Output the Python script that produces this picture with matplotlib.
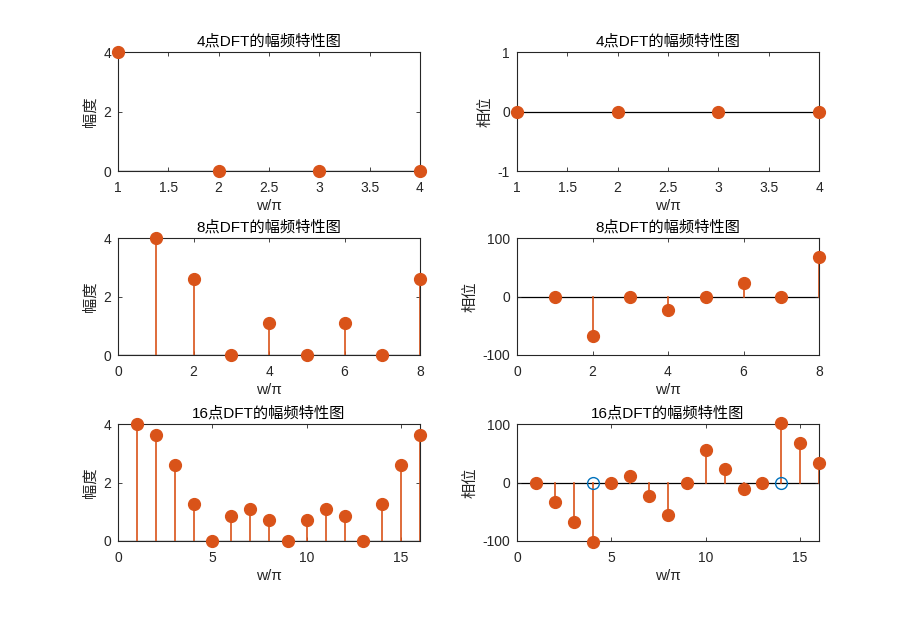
import matplotlib
matplotlib.use("Agg")
import matplotlib.pyplot as plt
import numpy as np

plt.rcParams['font.family'] = ['Liberation Sans', 'Noto Sans CJK SC', 'DejaVu Sans']
plt.rcParams['axes.unicode_minus'] = False

# Data
n4 = [1, 2, 3, 4]
mag4 = [4, 0, 0, 0]
pha4 = [0, 0, 0, 0]

n8 = [1, 2, 3, 4, 5, 6, 7, 8]
mag8 = [4, 2.613, 0, 1.082, 0, 1.082, 0, 2.613]
pha8 = [0, -67.5, 0, -22.5, 0, 22.5, 0, 67.5]

n16 = list(range(1, 17))
mag16 = [4, 3.625, 2.613, 1.273, 0, 0.850, 1.082, 0.721, 0, 0.721, 1.082, 0.850, 0, 1.273, 2.613, 3.625]
pha16 = [0, -33.75, -67.5, -101.25, 0, 11.25, -22.5, -56.25, 0, 56.25, 22.5, -11.25, 0, 101.25, 67.5, 33.75]
hollow16_x = [4, 14]
hollow16_y = [0, 0]

titles = ['4点DFT的幅频特性图', '4点DFT的幅频特性图',
          '8点DFT的幅频特性图', '8点DFT的幅频特性图',
          '16点DFT的幅频特性图', '16点DFT的幅频特性图']
xlabel = 'w/π'
ylabels = ['幅度', '相位']

ORANGE = '#D95319'
BLUE = '#0072BD'
AXC = '#262626'

fig = plt.figure(figsize=(9.06, 6.2), dpi=100)

W = 906; H = 620
lefts = [118 / W, 517 / W]
width = 302 / W
rows = [(52, 171), (238, 355), (424, 541)]


def make_ax(col, row):
    t, b = rows[row]
    ax = fig.add_axes([lefts[col], 1 - b / H, width, (b - t) / H])
    for s in ax.spines.values():
        s.set_color(AXC)
        s.set_linewidth(0.8)
    ax.tick_params(direction='in', length=3, width=0.6, colors=AXC, labelsize=10,
                   top=True, right=True)
    ax.tick_params(axis='x', pad=7)
    ax.tick_params(axis='y', pad=5)
    return ax


def stem(ax, x, y, baseline=True):
    for xi, yi in zip(x, y):
        ax.plot([xi, xi], [0, yi], color=ORANGE, lw=1.2, zorder=2)
    if baseline:
        ax.axhline(0, color='black', lw=0.9, zorder=1.5)
    ax.plot(x, y, 'o', color=ORANGE, ms=8.5, mec=ORANGE, zorder=3, clip_on=False)


datasets = [
    (n4, mag4, pha4, (1, 4), [1, 1.5, 2, 2.5, 3, 3.5, 4], ['1', '1.5', '2', '2.5', '3', '3.5', '4'],
     (0, 4), [0, 2, 4], (-1, 1), [-1, 0, 1]),
    (n8, mag8, pha8, (0, 8), [0, 2, 4, 6, 8], ['0', '2', '4', '6', '8'],
     (0, 4), [0, 2, 4], (-100, 100), [-100, 0, 100]),
    (n16, mag16, pha16, (0, 16), [0, 5, 10, 15], ['0', '5', '10', '15'],
     (0, 4), [0, 2, 4], (-100, 100), [-100, 0, 100]),
]

for r, (n, mag, pha, xl, xt, xtl, yl1, yt1, yl2, yt2) in enumerate(datasets):
    ax = make_ax(0, r)
    stem(ax, n, mag)
    ax.set_xlim(*xl)
    ax.set_xticks(xt)
    ax.set_xticklabels(xtl)
    ax.set_ylim(*yl1)
    ax.set_yticks(yt1)
    ax.set_title(titles[2 * r], fontsize=11, color='black', pad=5,
                 family=['Liberation Sans', 'Noto Sans CJK SC'])
    ax.set_xlabel(xlabel, fontsize=11, color=AXC, labelpad=3)
    ax.set_ylabel(ylabels[0], fontsize=11, color=AXC, labelpad=3,
                  family=['Noto Sans CJK SC'])

    ax2 = make_ax(1, r)
    stem(ax2, n, pha)
    if r == 2:
        ax2.plot(hollow16_x, hollow16_y, 'o', mfc='none', mec=BLUE, ms=8.5, mew=1.0, zorder=4)
    ax2.set_xlim(*xl)
    ax2.set_xticks(xt)
    ax2.set_xticklabels(xtl)
    ax2.set_ylim(*yl2)
    ax2.set_yticks(yt2)
    ax2.set_title(titles[2 * r + 1], fontsize=11, color='black', pad=5,
                  family=['Liberation Sans', 'Noto Sans CJK SC'])
    ax2.set_xlabel(xlabel, fontsize=11, color=AXC, labelpad=3)
    ax2.set_ylabel(ylabels[1], fontsize=11, color=AXC, labelpad=3,
                   family=['Noto Sans CJK SC'])

fig.savefig('out.png', dpi=100)
